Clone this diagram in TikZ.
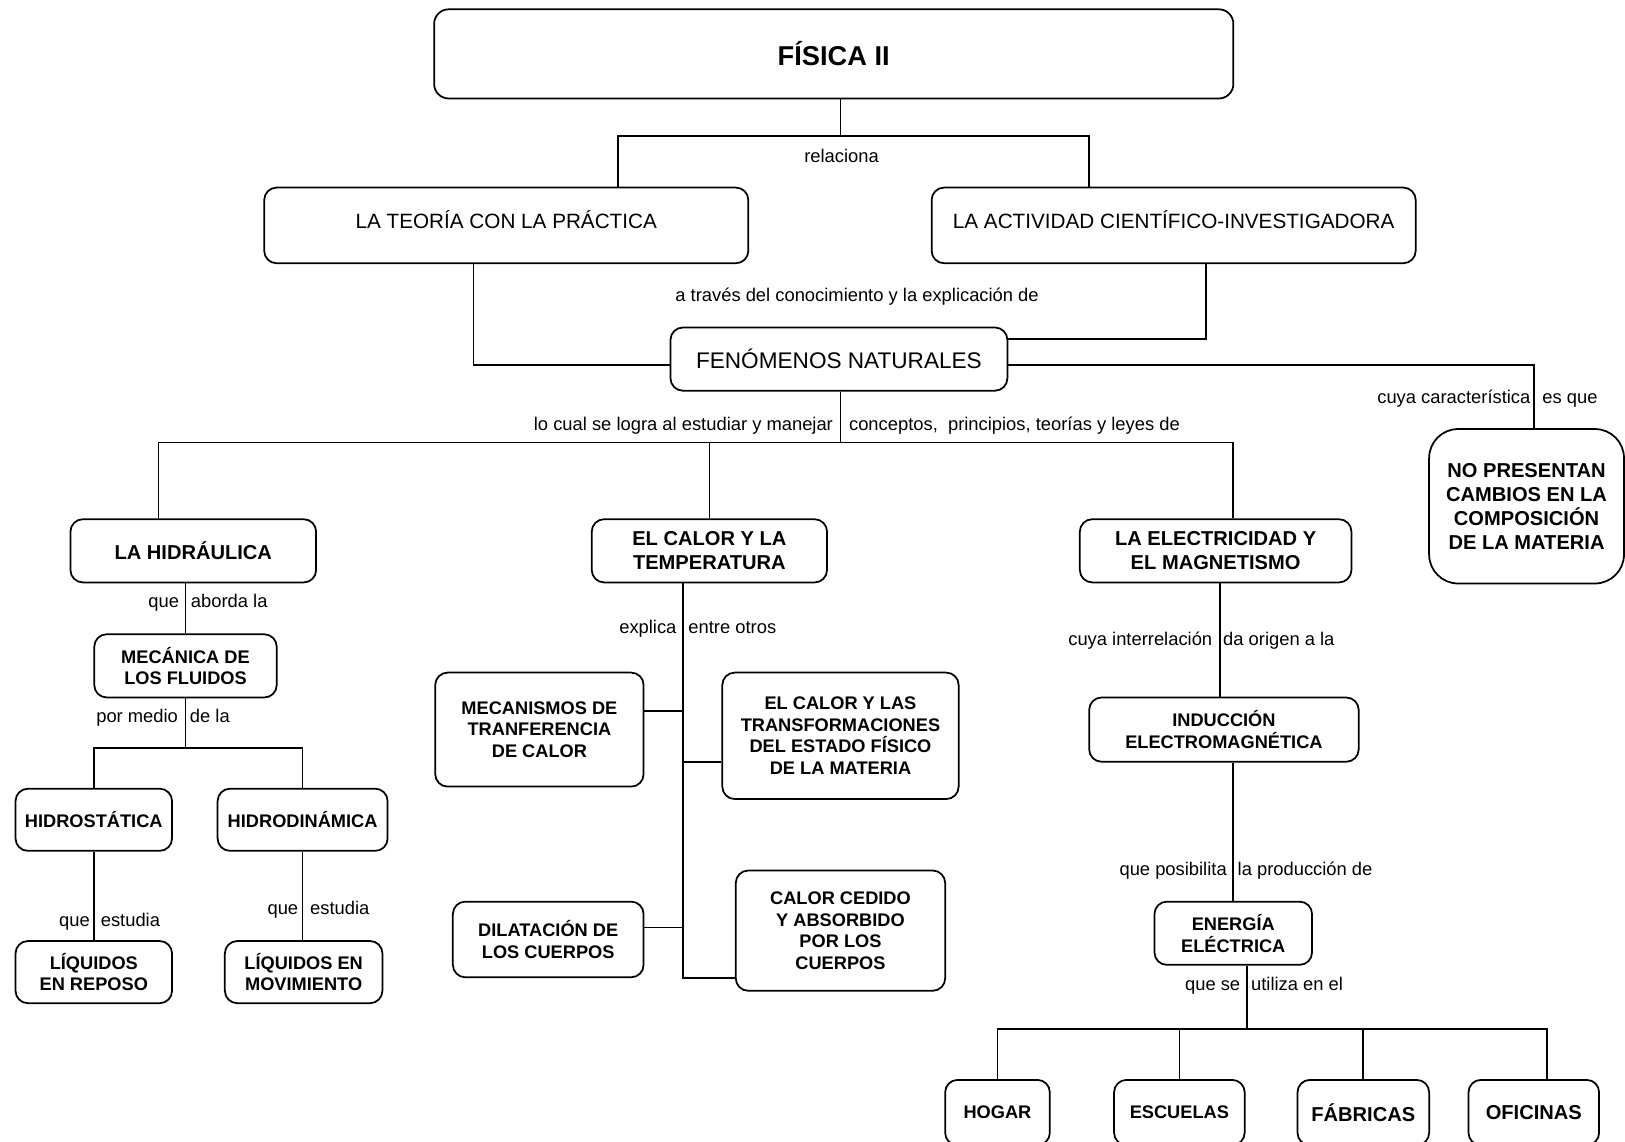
\documentclass[tikz,border=0pt]{standalone}
\usepackage{fontspec}
\setmainfont{Liberation Sans}
\usetikzlibrary{positioning}
\tikzset{
  caja/.style={draw,line width=1.2pt,rounded corners=0.3cm,align=center,inner sep=2pt},
  linea/.style={line width=1.2pt},
  etiq/.style={inner sep=0pt,font=\fontsize{12.6}{15}\selectfont},
  etiqi/.style={etiq,anchor=base east},
  etiqd/.style={etiq,anchor=base west},
  titulo/.style={caja,rounded corners=0.35cm,font=\bfseries\fontsize{18.7}{22}\selectfont},
  normal/.style={caja,font=\fontsize{14.2}{17}\selectfont},
  negrita/.style={caja,font=\bfseries\fontsize{12.5}{14.8}\selectfont},
  negritag/.style={caja,font=\bfseries\fontsize{13.8}{16.6}\selectfont},
}
\begin{document}
\begin{tikzpicture}[x=0.025cm,y=-0.025cm]
\useasboundingbox (0,0) rectangle (1568,1101);
% nivel superior
\node[titulo,minimum width=19.275cm,minimum height=2.15cm] (fisica) at (804.5,52) {FÍSICA II};
\node[normal,minimum width=11.675cm,minimum height=1.825cm,text depth=0.3cm] (teoria) at (488.5,217.5) {LA TEORÍA CON LA PRÁCTICA};
\node[normal,minimum width=11.675cm,minimum height=1.825cm,text depth=0.3cm] (actividad) at (1132.5,217.5) {LA ACTIVIDAD CIENTÍFICO-INVESTIGADORA};
\node[normal,font=\fontsize{15.5}{18}\selectfont,minimum width=8.125cm,minimum height=1.525cm] (fenomenos) at (809.5,346.5) {FENÓMENOS NATURALES};
\node[negritag,rounded corners=0.7cm,minimum width=4.7cm,minimum height=3.725cm] (nopresentan) at (1473,488.5) {NO PRESENTAN\\CAMBIOS EN LA\\COMPOSICIÓN\\DE LA MATERIA};
% ramas
\node[negritag,minimum width=5.925cm,minimum height=1.525cm] (hidraulica) at (186.5,531.5) {LA HIDRÁULICA};
\node[negritag,minimum width=5.675cm,minimum height=1.525cm] (calor) at (684.5,531.5) {EL CALOR Y LA\\TEMPERATURA};
\node[negritag,minimum width=6.55cm,minimum height=1.525cm] (electricidad) at (1173,531.5) {LA ELECTRICIDAD Y\\EL MAGNETISMO};
% hidraulica
\node[negrita,minimum width=4.4cm,minimum height=1.525cm] (mecanica) at (179,642.5) {MECÁNICA DE\\LOS FLUIDOS};
\node[negrita,minimum width=3.775cm,minimum height=1.5cm] (hidrostatica) at (90.5,791) {HIDROSTÁTICA};
\node[negrita,minimum width=4.1cm,minimum height=1.5cm] (hidrodinamica) at (292,791) {HIDRODINÁMICA};
\node[negrita,minimum width=3.775cm,minimum height=1.5cm] (liqreposo) at (90.5,938) {LÍQUIDOS\\EN REPOSO};
\node[negrita,minimum width=3.8cm,minimum height=1.5cm] (liqmov) at (293,938) {LÍQUIDOS EN\\MOVIMIENTO};
% calor
\node[negrita,minimum width=5.025cm,minimum height=2.75cm] (mecanismos) at (520.5,704) {MECANISMOS DE\\TRANFERENCIA\\DE CALOR};
\node[negrita,minimum width=5.7cm,minimum height=3.05cm] (transformaciones) at (811,710) {EL CALOR Y LAS\\TRANSFORMACIONES\\DEL ESTADO FÍSICO\\DE LA MATERIA};
\node[negrita,minimum width=4.6cm,minimum height=1.825cm] (dilatacion) at (529,906.5) {DILATACIÓN DE\\LOS CUERPOS};
\node[negrita,minimum width=5.05cm,minimum height=2.9cm] (calorcedido) at (811,898) {CALOR CEDIDO\\Y ABSORBIDO\\POR LOS\\CUERPOS};
% electricidad
\node[negrita,minimum width=6.5cm,minimum height=1.55cm] (induccion) at (1181,704) {INDUCCIÓN\\ELECTROMAGNÉTICA};
\node[negrita,minimum width=3.8cm,minimum height=1.525cm] (energia) at (1190,900.5) {ENERGÍA\\ELÉCTRICA};
\node[negrita,minimum width=2.525cm,minimum height=1.575cm] (hogar) at (962.5,1073.5) {HOGAR};
\node[negrita,minimum width=3.15cm,minimum height=1.575cm] (escuelas) at (1138,1073.5) {ESCUELAS};
\node[negritag,minimum width=3.175cm,minimum height=1.575cm] (fabricas) at (1315.5,1073.5) {FÁBRICAS};
\node[negritag,minimum width=3.15cm,minimum height=1.575cm] (oficinas) at (1480,1073.5) {OFICINAS};

% conectores superiores
\coordinate (rama) at (811,131);
\draw[linea] (fisica.south -| rama) -- (rama);
\draw[linea] (teoria.north -| 596,0) |- (rama) -| (actividad.north -| 1051,0);
\node[etiq] (relaciona) at (812,150) {relaciona};
\draw[linea] (teoria.south -| 457,0) |- (fenomenos.west |- 0,352);
\draw[linea] (actividad.south -| 1164,0) |- (fenomenos.east |- 0,327);
\node[etiq] (via) at (827,286) {a través del conocimiento y la explicación de};
\draw[linea] (fenomenos.east |- 0,352) -| (nopresentan.north -| 1480,0);
\node[etiqi] (cuya) at (1477,389) {cuya característica};
\node[etiqd] (esque) at (1488,389) {es que};

% fenomenos a las ramas
\coordinate (ramab) at (811,427);
\draw[linea] (fenomenos.south -| ramab) -- (ramab);
\draw[linea] (hidraulica.north -| 153,0) |- (ramab) -| (electricidad.north -| 1190,0);
\draw[linea] (calor.north) -- (calor.north |- ramab);
\node[etiqi] (logra) at (804,415) {lo cual se logra al estudiar y manejar};
\node[etiqd] (conceptos) at (819,415) {conceptos,~ principios, teorías y leyes de};

% hidraulica
\draw[linea] (hidraulica.south -| mecanica) -- (mecanica.north);
\node[etiqi] (que1) at (173,586) {que};
\node[etiqd] (aborda) at (184,586) {aborda la};
\coordinate (ramah) at (179,722);
\draw[linea] (mecanica.south) -- (ramah);
\draw[linea] (hidrostatica.north) |- (ramah) -| (hidrodinamica.north);
\node[etiqi] (pormedio) at (172,697) {por medio};
\node[etiqd] (dela) at (183,697) {de la};
\draw[linea] (hidrostatica.south) -- (liqreposo.north -| hidrostatica.south);
\node[etiqi] (que2) at (87,894) {que};
\node[etiqd] (estudia1) at (97,894) {estudia};
\draw[linea] (hidrodinamica.south) -- (liqmov.north -| hidrodinamica.south);
\node[etiqi] (que3) at (288,882) {que};
\node[etiqd] (estudia2) at (299,882) {estudia};

% calor
\coordinate (finc) at (659,944);
\draw[linea] (calor.south -| finc) -- (finc) -- (calorcedido.west |- finc);
\draw[linea] (mecanismos.east |- 0,686) -- (finc |- 0,686);
\draw[linea] (transformaciones.west |- 0,735) -- (finc |- 0,735);
\draw[linea] (dilatacion.east |- 0,895) -- (finc |- 0,895);
\node[etiqi] (explica) at (653,611) {explica};
\node[etiqd] (otros) at (664,611) {entre otros};

% electricidad
\draw[linea] (electricidad.south -| 1177,0) -- (induccion.north -| 1177,0);
\node[etiqi] (interrel) at (1170,623) {cuya interrelación};
\node[etiqd] (origen) at (1180,623) {da origen a la};
\draw[linea] (induccion.south -| energia) -- (energia.north);
\node[etiqi] (posibilita) at (1184,845) {que posibilita};
\node[etiqd] (produccion) at (1194,845) {la producción de};
\coordinate (ramae) at (1203,993);
\draw[linea] (energia.south -| ramae) -- (ramae);
\draw[linea] (hogar.north) |- (ramae) -| (oficinas.north -| 1493,0);
\draw[linea] (escuelas.north) -- (escuelas.north |- ramae);
\draw[linea] (fabricas.north) -- (fabricas.north |- ramae);
\node[etiqi] (quese) at (1197,956) {que se};
\node[etiqd] (utiliza) at (1207,956) {utiliza en el};
\end{tikzpicture}
\end{document}
